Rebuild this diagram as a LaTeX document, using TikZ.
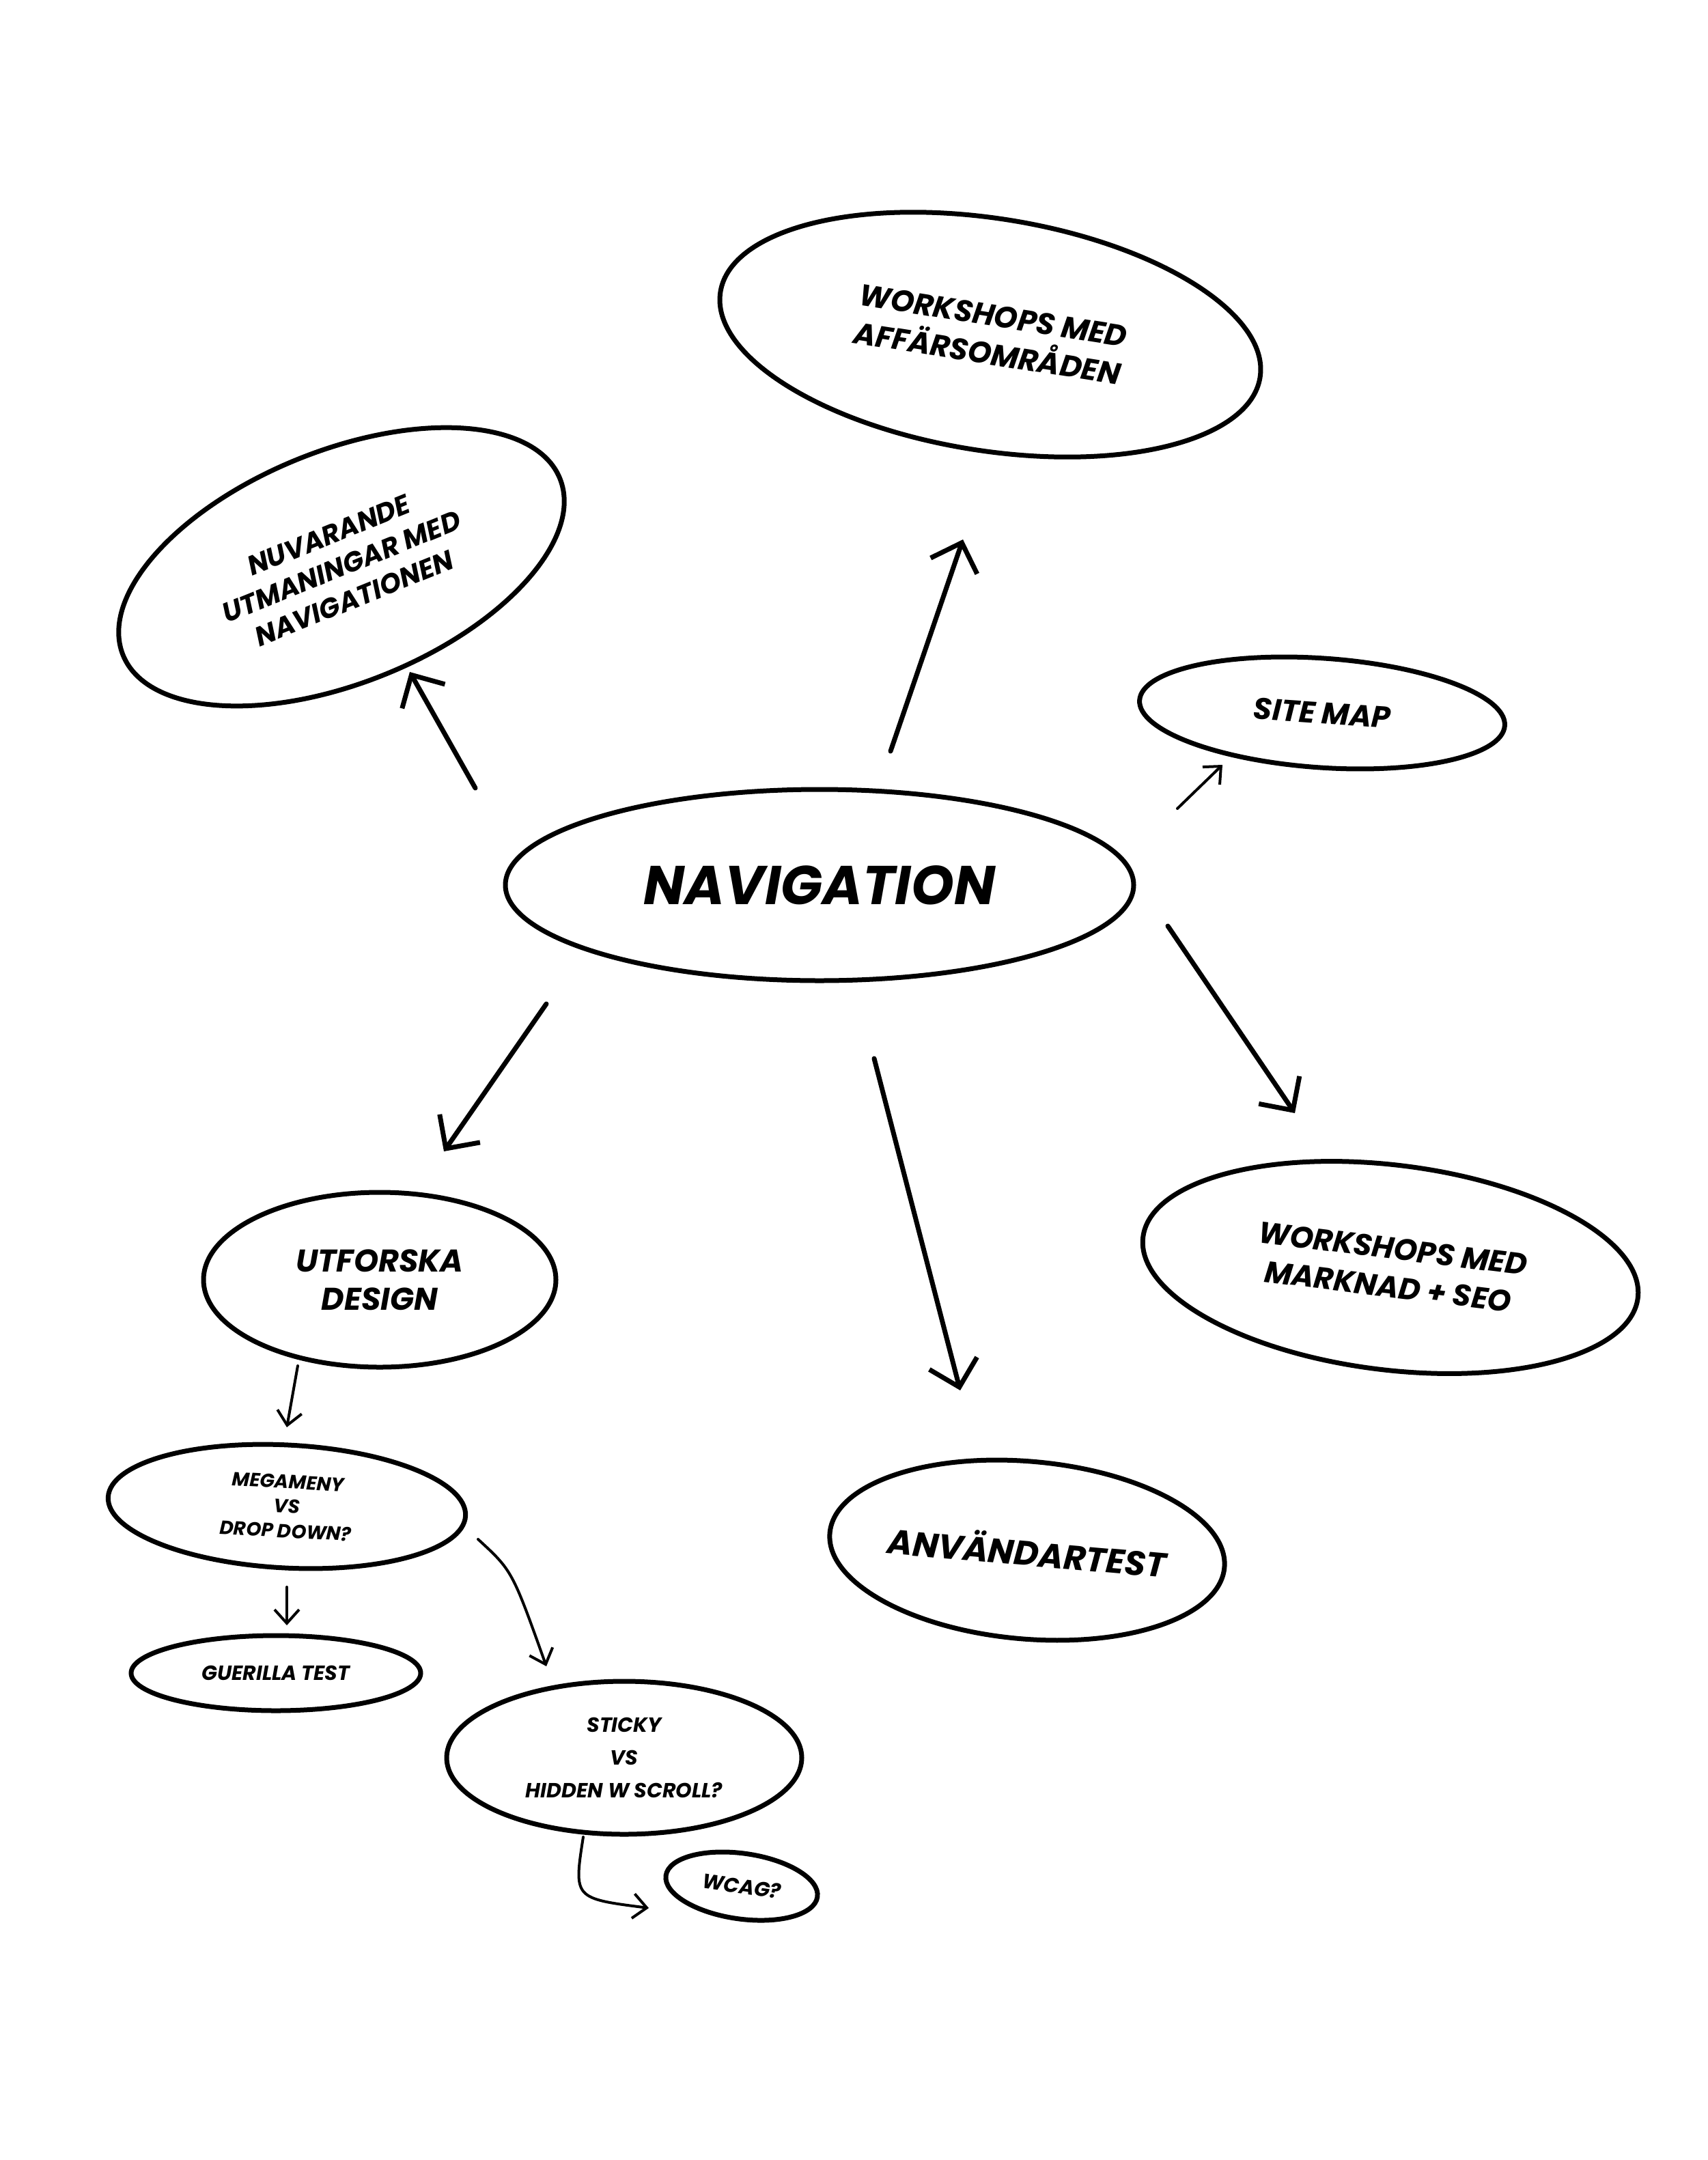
\documentclass[tikz,border=0pt]{standalone}
\usepackage{fontspec}
\setmainfont{Poppins}
\usetikzlibrary{shapes.geometric,arrows.meta}
\begin{document}
\begin{tikzpicture}[x=1pt,y=-1pt,
  blob/.style={draw,ellipse,line width=3.5pt,align=center,inner sep=0pt,font=\bfseries\itshape},
  con/.style={line width=3.5pt,line cap=round,-{Straight Barb[length=18pt,width=36pt,line width=3.5pt]}},
  thin/.style={line width=2pt,line cap=round,-{Straight Barb[length=10pt,width=18pt,line width=2pt]}}]
\useasboundingbox[fill=white] (0,0) rectangle (1250,1581.5);
\node[blob,minimum width=460,minimum height=140,font=\bfseries\itshape\fontsize{40}{46}\selectfont] (nav) at (600,648) {NAVIGATION};
\node[blob,rotate=-9,minimum width=400,minimum height=170,font=\bfseries\itshape\fontsize{22}{28}\selectfont] (aff) at (725,245) {WORKSHOPS MED\\AFFÄRSOMRÅDEN};
\node[blob,rotate=22,minimum width=345,minimum height=170,font=\bfseries\itshape\fontsize{20}{25}\selectfont] (nuv) at (250,415) {NUVARANDE\\UTMANINGAR MED\\NAVIGATIONEN};
\node[blob,rotate=-4,minimum width=268,minimum height=80,font=\bfseries\itshape\fontsize{22}{22}\selectfont] (site) at (968,522) {SITE MAP};
\node[blob,rotate=-7,minimum width=365,minimum height=150,font=\bfseries\itshape\fontsize{22}{28}\selectfont] (seo) at (1018,928) {WORKSHOPS MED\\MARKNAD + SEO};
\node[blob,minimum width=258,minimum height=128,font=\bfseries\itshape\fontsize{23}{28}\selectfont] (utf) at (278,937) {UTFORSKA\\DESIGN};
\node[blob,rotate=-5,minimum width=290,minimum height=130,font=\bfseries\itshape\fontsize{25}{26}\selectfont] (anv) at (752,1135) {ANVÄNDARTEST};
\node[blob,rotate=-3,minimum width=262,minimum height=90,font=\bfseries\itshape\fontsize{14}{18}\selectfont] (mega) at (210,1103) {MEGAMENY\\VS\\DROP DOWN?};
\node[blob,minimum width=212,minimum height=55,font=\bfseries\itshape\fontsize{15}{16}\selectfont] (gue) at (202,1225) {GUERILLA TEST};
\node[blob,minimum width=260,minimum height=112,font=\bfseries\itshape\fontsize{15}{24}\selectfont] (sti) at (457,1287) {STICKY\\VS\\HIDDEN W SCROLL?};
\node[blob,rotate=-8,minimum width=112,minimum height=48,font=\bfseries\itshape\fontsize{15}{15}\selectfont] (wcag) at (543,1381) {WCAG?};
\coordinate (a1) at (348,577); \coordinate (b1) at (300,492);
\coordinate (a2) at (652,550); \coordinate (b2) at (705,395);
\coordinate (a3) at (862,592); \coordinate (b3) at (895,560);
\coordinate (a4) at (855,678); \coordinate (b4) at (948,815);
\coordinate (a5) at (400,735); \coordinate (b5) at (325,843);
\coordinate (a6) at (640,775); \coordinate (b6) at (703,1018);
\coordinate (a7) at (218,1000); \coordinate (b7) at (210,1045);
\coordinate (a8) at (210,1162); \coordinate (b8) at (210,1190);
\coordinate (a9) at (350,1127); \coordinate (b9) at (400,1220);
\coordinate (a10) at (427,1345); \coordinate (b10) at (475,1397);
\draw[con] (a1) -- (b1);
\draw[con] (a2) -- (b2);
\draw[thin] (a3) -- (b3);
\draw[con] (a4) -- (b4);
\draw[con] (a5) -- (b5);
\draw[con] (a6) -- (b6);
\draw[thin] (a7) -- (b7);
\draw[thin] (a8) -- (b8);
\draw[thin] (a9) .. controls (375,1150) .. (b9);
\draw[thin] (a10) .. controls (420,1390) .. (b10);
\end{tikzpicture}
\end{document}
